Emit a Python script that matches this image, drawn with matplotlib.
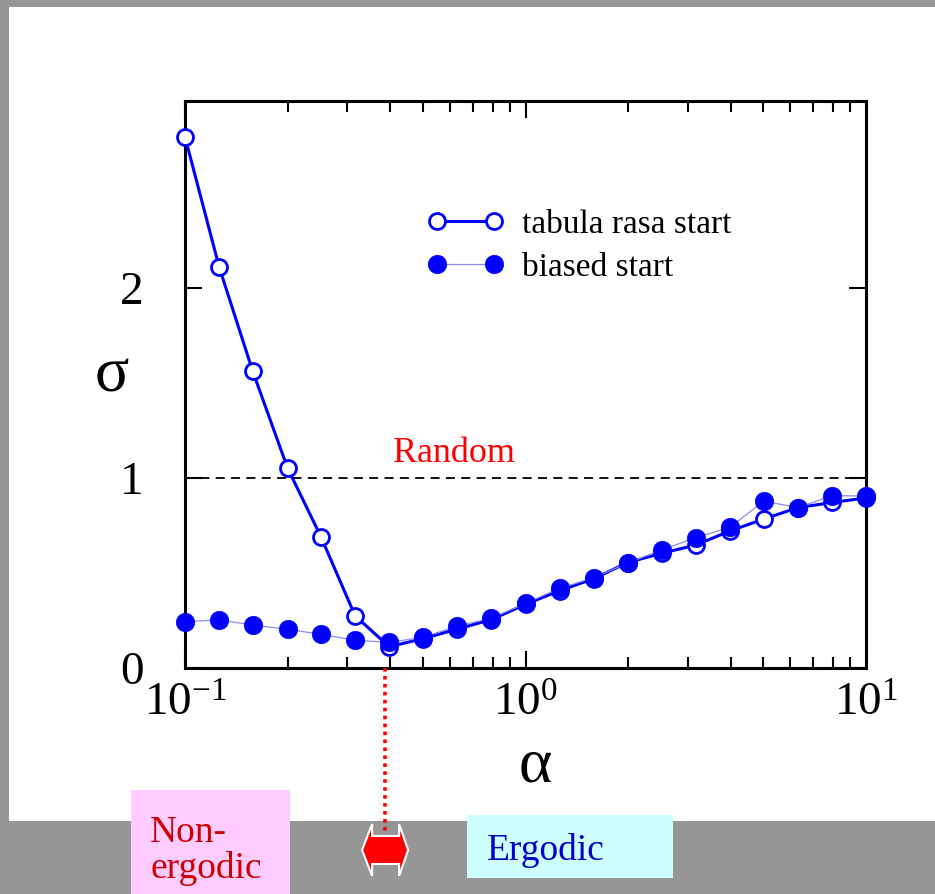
import numpy as np
import matplotlib
matplotlib.use("Agg")
import matplotlib.pyplot as plt
from matplotlib.patches import Rectangle, Polygon
from matplotlib.ticker import FixedLocator, FixedFormatter, NullFormatter

plt.rcParams['font.family'] = ['Liberation Serif', 'DejaVu Serif']
plt.rcParams['mathtext.fontset'] = 'custom'
plt.rcParams['mathtext.rm'] = 'Liberation Serif'
plt.rcParams['mathtext.it'] = 'Liberation Serif:italic'

# ---- data ----
alpha = [0.1, 0.126, 0.158, 0.2, 0.251, 0.316, 0.398, 0.501, 0.631, 0.794,
         1.0, 1.259, 1.585, 1.995, 2.512, 3.162, 3.981, 5.012, 6.31, 7.943, 10.0]
sigma_tabula = [2.795, 2.11, 1.563, 1.053, 0.689, 0.274, 0.112, 0.155, 0.205, 0.255,
                0.335, 0.407, 0.47, 0.555, 0.604, 0.647, 0.721, 0.784, 0.844, 0.871, 0.895]
sigma_biased = [0.244, 0.253, 0.226, 0.204, 0.177, 0.146, 0.135, 0.162, 0.221, 0.262,
                0.34, 0.42, 0.474, 0.553, 0.621, 0.686, 0.740, 0.878, 0.844, 0.907, 0.905]
random_level = 1.0
alpha_critical = 0.387
x_major = [0.1, 1.0, 10.0]
x_major_labels = [r'$\mathregular{10^{-1}}$', r'$\mathregular{10^{0}}$', r'$\mathregular{10^{1}}$']
y_major = [0, 1, 2]
y_major_labels = ['0', '1', '2']

W, H = 935, 894
GRAY = '#969696'

def fx(px):
    return px / W

def fy(py):
    return 1 - py / H

fig = plt.figure(figsize=(W / 100, H / 100), dpi=100, facecolor=GRAY)
fig.add_artist(Rectangle((fx(9), fy(821)), fx(935) - fx(9), fy(7) - fy(821),
                         transform=fig.transFigure, facecolor='white',
                         edgecolor='none', zorder=-10))

ax = fig.add_axes([fx(185), fy(668), fx(866) - fx(185), fy(101) - fy(668)])
ax.set_xscale('log')
ax.set_xlim(0.1, 10)
ax.set_ylim(0, 2.984)

# horizontal random level
ax.axhline(random_level, color='black', lw=1.3, dashes=(5, 3.5), zorder=1)
ax.text(0.616, random_level + 0.084, 'Random', color='red', fontsize=26,
        ha='center', va='baseline')

# series
ax.plot(alpha, sigma_tabula, '-', color='#0000ff', lw=2.2, marker='o', ms=11.5,
        mfc='white', mec='#0000ff', mew=2.0, clip_on=False, zorder=3,
        label='tabula rasa start')
ax.plot(alpha, sigma_biased, '-', color='#8c8cf0', lw=0.9, marker='o', ms=13.5,
        mfc='#0000ff', mec='#0000ff', mew=0.3, clip_on=False, zorder=4,
        label='biased start')

# critical line
ax.plot([alpha_critical, alpha_critical], [0, -0.86], color='red', lw=2.6,
        dashes=(1.0, 1.2), clip_on=False, zorder=5)

# ticks
ax.xaxis.set_major_locator(FixedLocator(x_major))
ax.xaxis.set_major_formatter(FixedFormatter(x_major_labels))
minors = [m * d for d in (0.1, 1.0) for m in range(2, 10)]
ax.xaxis.set_minor_locator(FixedLocator(minors))
ax.xaxis.set_minor_formatter(NullFormatter())
ax.yaxis.set_major_locator(FixedLocator(y_major))
ax.yaxis.set_major_formatter(FixedFormatter(y_major_labels))
ax.yaxis.set_minor_locator(FixedLocator([]))
ax.tick_params(axis='both', which='major', direction='in', length=12, width=1.5,
               labelsize=34, top=True, right=True)
ax.tick_params(axis='both', which='minor', direction='in', length=8, width=1.5,
               top=True, right=True)
ax.tick_params(axis='x', which='major', pad=11)
ax.tick_params(axis='y', which='major', pad=30)
for s in ax.spines.values():
    s.set_linewidth(2.2)

ax.set_xlabel('α', fontsize=46)
ax.xaxis.set_label_coords((535 - 185) / 681, (668 - 738) / 567)
ax.set_ylabel('σ', fontsize=46, rotation=0, ha='center', va='center')
ax.yaxis.set_label_coords((112 - 185) / 681, (668 - 377) / 567)

leg = ax.legend(loc='center left', bbox_to_anchor=((427 - 185) / 681, (668 - 246) / 567),
                frameon=False, fontsize=24, numpoints=2, handlelength=2.3,
                handletextpad=0.55, labelspacing=0.38, borderpad=0, borderaxespad=0)

# bottom annotations
fig.add_artist(Rectangle((fx(131), fy(894)), fx(290) - fx(131), fy(790) - fy(894),
                         transform=fig.transFigure, facecolor='#ffccff',
                         edgecolor='none', zorder=2))
fig.text(fx(150), fy(842), 'Non-', color='#d00000', fontsize=27, ha='left',
         va='baseline', zorder=3)
fig.text(fx(150), fy(878), 'ergodic', color='#d00000', fontsize=27, ha='left',
         va='baseline', zorder=3)

fig.add_artist(Rectangle((fx(467), fy(878)), fx(673) - fx(467), fy(815) - fy(878),
                         transform=fig.transFigure, facecolor='#ccffff',
                         edgecolor='none', zorder=2))
fig.text(fx(487), fy(860), 'Ergodic', color='#0000cc', fontsize=27, ha='left',
         va='baseline', zorder=3)

# double arrow centered on the critical alpha
cx = ax.transData.transform((alpha_critical, 1))[0]
cy = 850
offs = [(-23, 0), (-13, -26), (-13, -14), (14, -14), (14, -26), (23, 0),
        (14, 26), (14, 14), (-13, 14), (-13, 26)]
pts = [(fx(cx + dx), fy(cy + dy)) for dx, dy in offs]
fig.add_artist(Polygon(pts, closed=True, transform=fig.transFigure,
                       facecolor='red', edgecolor='white', lw=1.5, zorder=6))

fig.savefig('out.png', dpi=100, facecolor=fig.get_facecolor())
